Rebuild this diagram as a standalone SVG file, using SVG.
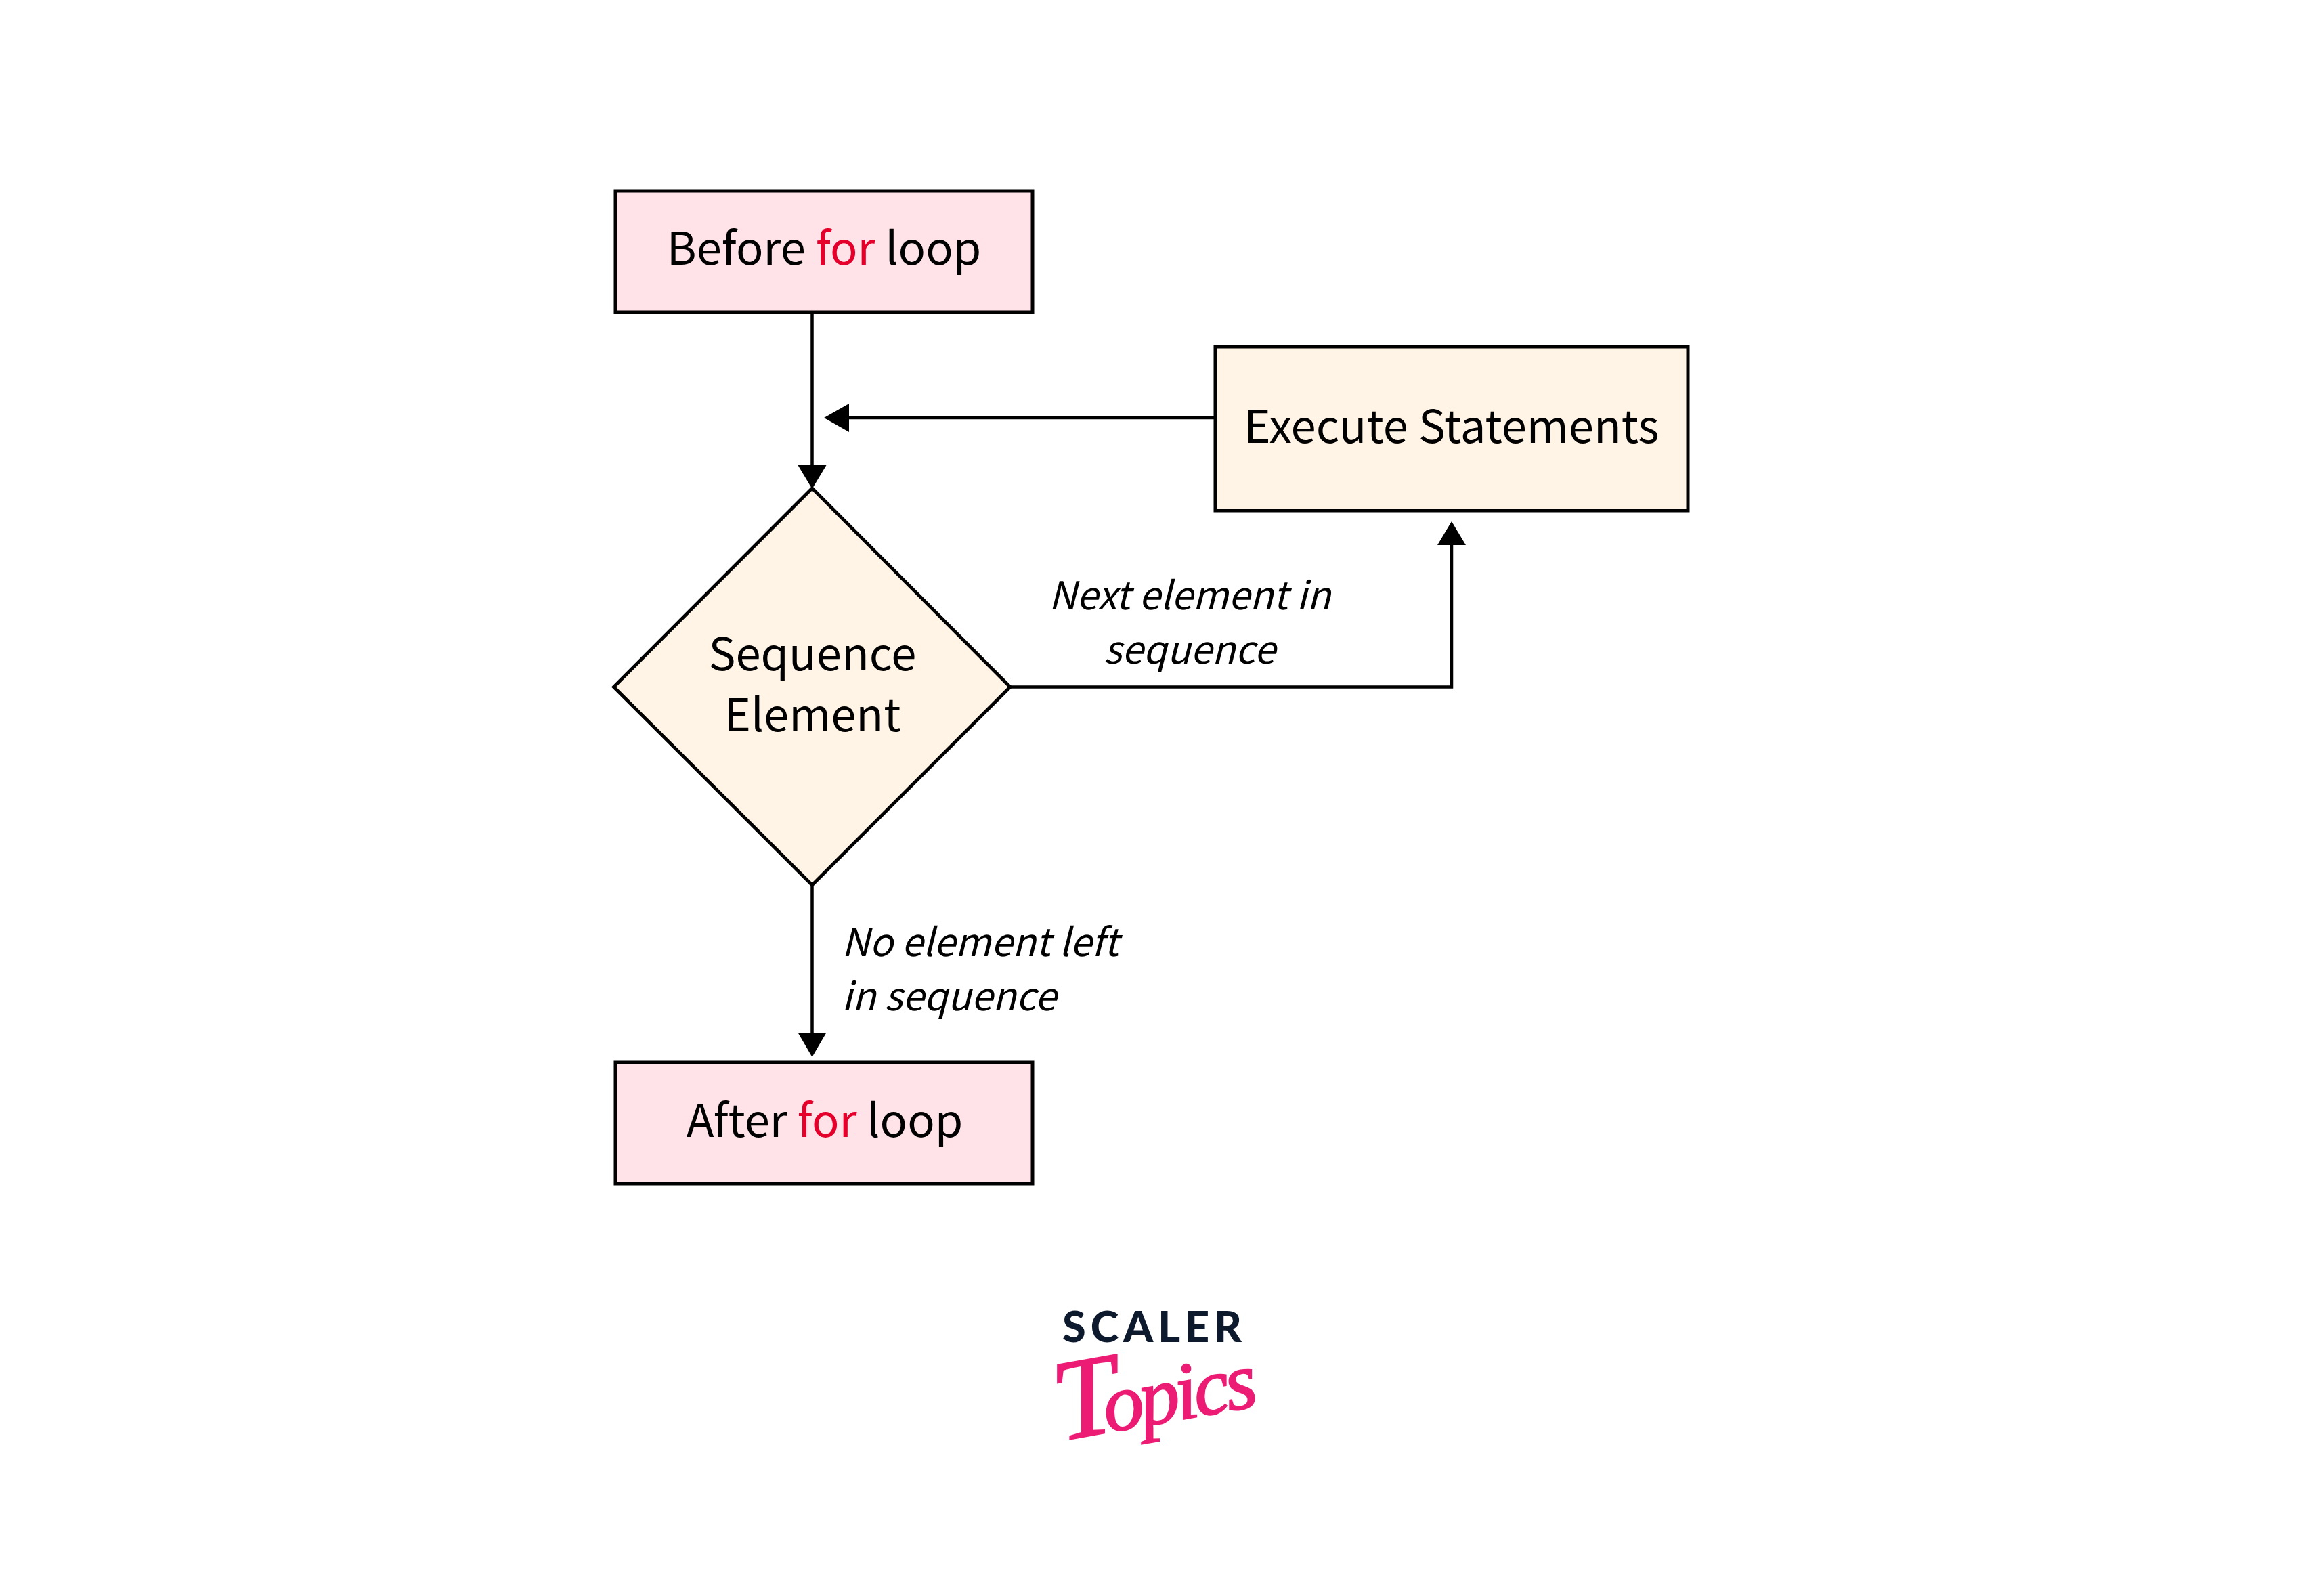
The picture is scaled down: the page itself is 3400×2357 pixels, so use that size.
<svg xmlns="http://www.w3.org/2000/svg" width="3400" height="2357" viewBox="0 0 3400 2357">
<defs>
<style>
.box{stroke:#000;stroke-width:5;stroke-linejoin:miter}
.pink{fill:#ffe3e8}
.cream{fill:#fff4e6}
.t{font-family:"Noto Sans CJK SC","Noto Sans",sans-serif;font-size:67px;fill:#000}
.i{font-family:"Noto Sans CJK SC","Noto Sans",sans-serif;font-size:57px;font-style:italic;fill:#000}
.m{text-anchor:middle}
.r{fill:#e4002b}
.c{fill:none;stroke:#000;stroke-width:4.500}
.h{fill:#000;stroke:none}
</style>
</defs>
<rect width="3400" height="2357" fill="#fff"/>
<g id="connectors">
<path class="c" d="M1199.500 461V690"/><polygon class="h" points="1178.500,687 1220.500,687 1199.500,722"/>
<path class="c" d="M1795 617H1250"/><polygon class="h" points="1254,596 1254,638 1217,617"/>
<path class="c" d="M1492 1014.500H2144V803"/><polygon class="h" points="2123,805 2165,805 2144,770"/>
<path class="c" d="M1199.500 1307V1530"/><polygon class="h" points="1178.500,1525 1220.500,1525 1199.500,1561"/>
</g>
<g id="before"><rect class="box pink" x="909" y="282" width="616" height="179"/>
<text class="t m" x="1217" y="391">Before <tspan class="r">for</tspan> loop</text></g>
<g id="execute"><rect class="box cream" x="1795" y="512" width="698" height="242"/>
<text class="t m" x="2144" y="654">Execute Statements</text></g>
<g id="decision"><polygon class="box cream" points="1199.500,721 1492,1014.500 1199.500,1307 906.500,1014.500"/>
<text class="t m" x="1200" y="990">Sequence</text><text class="t m" x="1200" y="1080">Element</text></g>
<g id="after"><rect class="box pink" x="909" y="1569" width="616" height="179"/>
<text class="t m" x="1218" y="1679">After <tspan class="r">for</tspan> loop</text></g>
<g id="label-next"><text class="i m" x="1757" y="900">Next element in</text><text class="i m" x="1757" y="980">sequence</text></g>
<g id="label-none"><text class="i" x="1243" y="1412">No element left</text><text class="i" x="1243" y="1492">in sequence</text></g>
<g id="logo">
<text x="1569" y="1982" font-family="Lato,sans-serif" font-weight="900" font-size="63" fill="#0d1a2e" textLength="265" lengthAdjust="spacing">SCALER</text>
<text transform="translate(1566 2128) rotate(-10)" font-family="'Liberation Serif',serif" font-style="italic" font-size="120" fill="#ec1c75" stroke="#ec1c75" stroke-width="2"><tspan font-size="170">T</tspan><tspan dx="-24" letter-spacing="-6">opics</tspan></text>
</g>
</svg>
